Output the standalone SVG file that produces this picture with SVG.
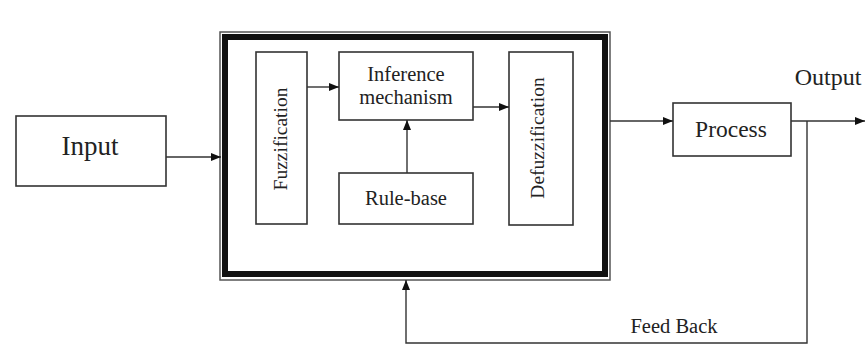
<svg xmlns="http://www.w3.org/2000/svg" width="865" height="345" viewBox="0 0 865 345">
<style>
.box{fill:#fff;stroke:#333;stroke-width:1.6}
.lbl{font-family:"Liberation Serif","Times New Roman",serif;fill:#222;text-anchor:middle}
.ln{fill:none;stroke:#333;stroke-width:1.4}
</style>
<defs>
<marker id="ah" viewBox="0 0 10 8" refX="10" refY="4" markerWidth="10" markerHeight="8" markerUnits="userSpaceOnUse" orient="auto">
<path d="M0,0 L10,4 L0,8 Z" fill="#111"/>
</marker>
</defs>
<rect width="865" height="345" fill="#fff"/>
<g id="input">
<rect class="box" x="16" y="116" width="150" height="70"/>
<text class="lbl" x="90" y="155" font-size="27">Input</text>
</g>
<g id="controller">
<rect x="220" y="32" width="390" height="248" fill="#fff" stroke="#555" stroke-width="1.5"/>
<rect x="225" y="37" width="380" height="237" fill="#fff" stroke="#111" stroke-width="6"/>
</g>
<g id="fuzzification">
<rect class="box" x="256" y="52" width="51" height="172"/>
<text class="lbl" font-size="19.5" transform="translate(287,139) rotate(-90)">Fuzzification</text>
</g>
<g id="inference">
<rect class="box" x="339" y="52" width="134" height="68"/>
<text class="lbl" x="406" y="81" font-size="20.5">Inference</text>
<text class="lbl" x="406" y="104" font-size="20.5">mechanism</text>
</g>
<g id="rulebase">
<rect class="box" x="339" y="173" width="134" height="51"/>
<text class="lbl" x="406" y="205" font-size="20.5">Rule-base</text>
</g>
<g id="defuzzification">
<rect class="box" x="509" y="52" width="64" height="173"/>
<text class="lbl" font-size="19.5" transform="translate(544,138) rotate(-90)">Defuzzification</text>
</g>
<g id="process">
<rect class="box" x="673" y="103" width="118" height="53"/>
<text class="lbl" x="731" y="137" font-size="23.5">Process</text>
</g>
<g id="connectors">
<line class="ln" x1="166" y1="157" x2="221" y2="157" marker-end="url(#ah)"/>
<line class="ln" x1="307" y1="87" x2="339" y2="87" marker-end="url(#ah)"/>
<line class="ln" x1="407" y1="173" x2="407" y2="120" marker-end="url(#ah)"/>
<line class="ln" x1="473" y1="107" x2="509" y2="107" marker-end="url(#ah)"/>
<line class="ln" x1="610" y1="121" x2="673" y2="121" marker-end="url(#ah)"/>
<line class="ln" x1="791" y1="121" x2="865" y2="121" marker-end="url(#ah)"/>
<polyline class="ln" points="807,121 807,343 406,343 406,280" marker-end="url(#ah)"/>
</g>
<g id="labels">
<text class="lbl" x="828" y="85" font-size="24">Output</text>
<text class="lbl" x="674" y="333" font-size="20.5">Feed Back</text>
</g>
</svg>
